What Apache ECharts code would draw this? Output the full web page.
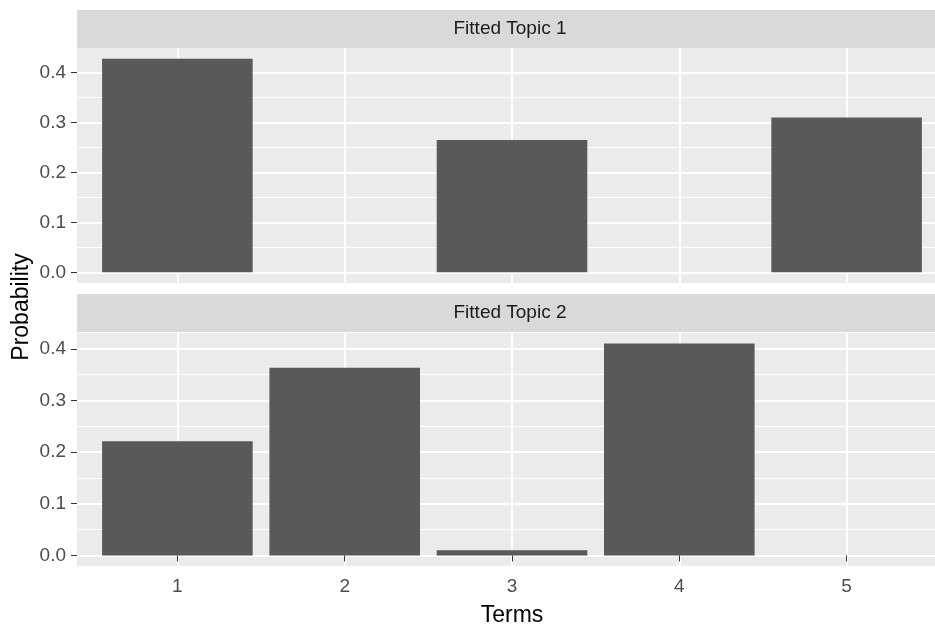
<!DOCTYPE html>
<html>
<head>
<meta charset="utf-8">
<script src="https://cdn.jsdelivr.net/npm/echarts@6/dist/echarts.min.js"></script>
<style>
  html, body { margin: 0; padding: 0; background: #ffffff; }
  #chart { width: 935px; height: 631px; }
</style>
</head>
<body>
<div id="chart"></div>
<script>
// Term-topic probabilities for two fitted topics
const terms = [1, 2, 3, 4, 5];
const topic1 = [0.428, 0, 0.265, 0, 0.310];
const topic2 = [0.221, 0.363, 0.010, 0.410, 0];
const panelTitles = ['Fitted Topic 1', 'Fitted Topic 2'];
const yBreaks = [0, 0.1, 0.2, 0.3, 0.4];
const yMinorBreaks = [0.05, 0.15, 0.25, 0.35];

const FONT = '"Liberation Sans", Arial, sans-serif';
const PANEL_LEFT = 77;
const PANEL_WIDTH = 870;   // the panels run past the right edge of the canvas
const panels = [
  { stripTop: 10, top: 48, height: 235, values: topic1 },
  { stripTop: 294, top: 333, height: 233, values: topic2 }
];
const STRIP_H = 38;

// discrete x scale: 0.6 units of padding either side of the terms
const xMin = terms[0] - 0.6;
const xMax = terms[terms.length - 1] + 0.6;
const unitPx = PANEL_WIDTH / (xMax - xMin);

const grid = [], xAxis = [], yAxis = [], series = [], graphic = [];

panels.forEach(function (p, i) {
  const isBottom = i === panels.length - 1;
  // free y scale per panel with 5% expansion
  const m = Math.max.apply(null, p.values);
  const yMin = -0.05 * m, yMax = 1.05 * m;

  grid.push({
    left: PANEL_LEFT, width: PANEL_WIDTH, top: p.top, height: p.height,
    outerBoundsMode: 'none', containLabel: false,
    show: true, backgroundColor: '#EBEBEB', borderWidth: 0
  });

  xAxis.push({
    type: 'value', gridIndex: i, min: xMin, max: xMax,
    axisLine: { show: false },
    axisTick: { show: isBottom, customValues: terms, length: 6, lineStyle: { color: '#333333', width: 1 } },
    axisLabel: {
      show: isBottom, customValues: terms, margin: 11,
      color: '#4D4D4D', fontSize: 19, fontFamily: FONT,
      formatter: function (v) { return String(v); }
    },
    splitLine: { show: true, lineStyle: { color: '#FFFFFF', width: 2 } },
    name: isBottom ? 'Terms' : '',
    nameLocation: 'middle', nameGap: 38,
    nameTextStyle: { color: '#000000', fontSize: 23, fontFamily: FONT }
  });

  // major breaks with labels
  yAxis.push({
    type: 'value', gridIndex: i, min: yMin, max: yMax,
    axisLine: { show: false },
    axisTick: { show: true, customValues: yBreaks, length: 6, lineStyle: { color: '#333333', width: 1 } },
    axisLabel: {
      customValues: yBreaks, margin: 11,
      color: '#4D4D4D', fontSize: 19, fontFamily: FONT,
      formatter: function (v) { return v.toFixed(1); }
    },
    splitLine: { show: true, lineStyle: { color: '#FFFFFF', width: 2 } }
  });
  // minor breaks, gridlines only
  yAxis.push({
    type: 'value', gridIndex: i, min: yMin, max: yMax,
    axisLine: { show: false },
    axisTick: { show: false, customValues: yMinorBreaks },
    axisLabel: { show: false, customValues: yMinorBreaks },
    splitLine: { show: true, lineStyle: { color: '#FFFFFF', width: 1.1 } }
  });

  series.push({
    type: 'bar',
    xAxisIndex: i,
    yAxisIndex: 2 * i,
    barWidth: 0.9 * unitPx,
    itemStyle: { color: '#595959', borderWidth: 0 },
    data: terms.map(function (t, k) { return [t, p.values[k]]; }),
    silent: true
  });

  // facet strip
  graphic.push({
    type: 'rect', silent: true, z: -1,
    shape: { x: PANEL_LEFT, y: p.stripTop, width: PANEL_WIDTH, height: STRIP_H },
    style: { fill: '#D9D9D9' }
  });
  graphic.push({
    type: 'text', silent: true,
    x: PANEL_LEFT + PANEL_WIDTH / 2 - 2, y: p.stripTop + STRIP_H / 2,
    style: {
      text: panelTitles[i], fill: '#1A1A1A', fontSize: 19, fontFamily: FONT,
      align: 'center', verticalAlign: 'middle'
    }
  });
});

// shared y-axis title
graphic.push({
  type: 'text', silent: true,
  x: 22, y: 307, rotation: Math.PI / 2,
  style: {
    text: 'Probability', fill: '#000000', fontSize: 23, fontFamily: FONT,
    align: 'center', verticalAlign: 'middle'
  }
});

const chart = echarts.init(document.getElementById('chart'), null, { renderer: 'canvas' });
chart.setOption({
  animation: false,
  backgroundColor: '#FFFFFF',
  grid: grid,
  xAxis: xAxis,
  yAxis: yAxis,
  series: series,
  graphic: graphic
});
</script>
</body>
</html>
